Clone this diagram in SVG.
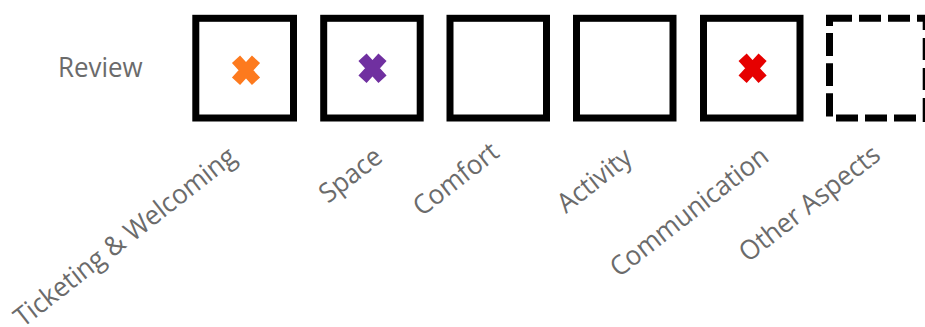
<svg xmlns="http://www.w3.org/2000/svg" width="925" height="327" viewBox="0 0 925 327">
<style>
text{font-family:"Open Sans","Noto Sans","Liberation Sans",sans-serif;fill:#6b6b6b;font-size:27px}
.b{fill:#fff;stroke:#000;stroke-width:7}
.d{fill:none;stroke:#000;stroke-width:7}
.x{stroke-width:11;fill:none}
</style>
<defs><path id="x" d="M-10,-11L10,11M10,-11L-10,11"/></defs>
<g id="review"><text transform="translate(58,77) scale(.96,1)">Review</text></g>
<g id="n1"><rect class="b" x="195.8" y="18.3" width="97.7" height="99.7"/><use href="#x" x="246" y="70.3" class="x" stroke="#fd7a1e"/><text transform="translate(23,328) rotate(-38) scale(.96,1)">Ticketing &amp; Welcoming</text></g>
<g id="n2"><rect class="b" x="323.7" y="18.3" width="96.5" height="99.7"/><use href="#x" x="372.5" y="68.3" class="x" stroke="#7030a0"/><text transform="translate(328,204) rotate(-38) scale(.96,1)">Space</text></g>
<g id="n3"><rect class="b" x="450" y="18.3" width="96.5" height="99.7"/><text transform="translate(422,217) rotate(-38) scale(.96,1)">Comfort</text></g>
<g id="n4"><rect class="b" x="576.5" y="18.3" width="96.5" height="99.7"/><text transform="translate(566,214) rotate(-38) scale(.96,1)">Activity</text></g>
<g id="n5"><rect class="b" x="703.5" y="18.3" width="96.5" height="99.7"/><use href="#x" x="752.6" y="68.3" class="x" stroke="#e60000"/><text transform="translate(619,278) rotate(-38) scale(.96,1)">Communication</text></g>
<g id="n6"><path class="d" d="M829.5,26V18.3H852M859,18.3H881M888,18.3H910M917,18.3H926.2V30M829.5,33V56M829.5,63.3V86M829.5,93.3V116.5M836,118H858M865,118H887M894,118H916M926.2,38V60M926.2,68V90M926.2,98V122"/><text transform="translate(748,263) rotate(-38) scale(.96,1)">Other Aspects</text></g>
<g id="connectors"></g>
</svg>
